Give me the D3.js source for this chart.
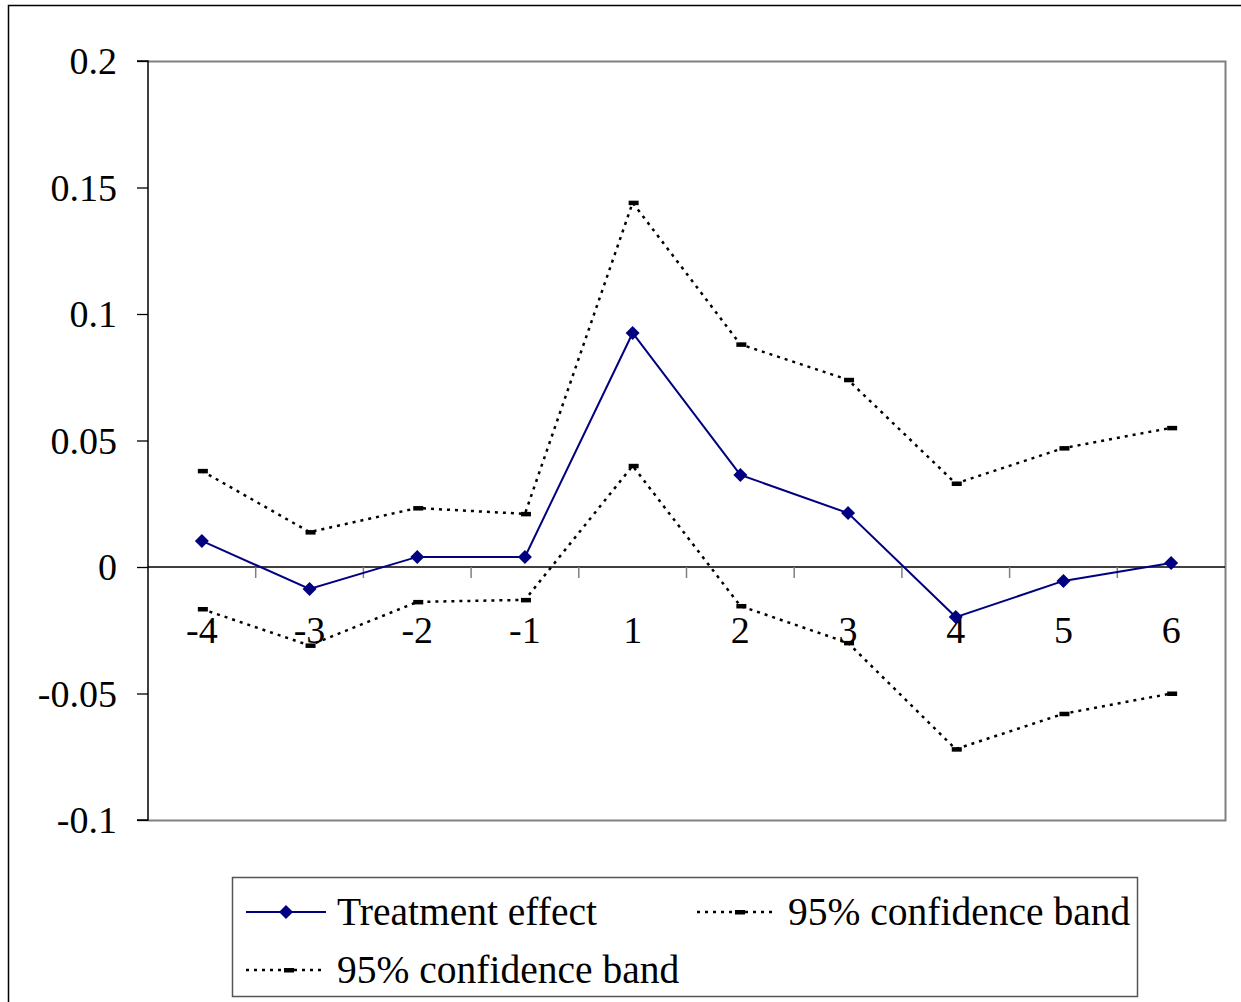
<!DOCTYPE html>
<html><head><meta charset="utf-8">
<script src="https://cdn.jsdelivr.net/npm/d3@7"></script>
<style>body{margin:0;background:#fff;}svg{display:block;}text{font-family:"Liberation Serif","Times New Roman",serif;}</style>
</head><body>
<svg id="c" width="1241" height="1002"></svg>
<script>
const categories = ["-4","-3","-2","-1","1","2","3","4","5","6"];
const treatment = [0.0103,-0.0087,0.0040,0.0040,0.0925,0.0364,0.0213,-0.0198,-0.0055,0.0016];
const upperBand = [0.0380,0.0138,0.0233,0.0210,0.1440,0.0880,0.0740,0.0330,0.0470,0.0550];
const lowerBand = [-0.0166,-0.0310,-0.0138,-0.0130,0.0400,-0.0154,-0.0300,-0.0720,-0.0580,-0.0500];
const yTicks = [-0.1,-0.05,0,0.05,0.1,0.15,0.2];
const yTickLabels = ["-0.1","-0.05","0","0.05","0.1","0.15","0.2"];
const legendLabels = ["Treatment effect","95% confidence band","95% confidence band"];

const svg = d3.select("#c");
const L=148,R=1225,T=61,B=820;
const x = d3.scaleBand().domain(categories).range([L,R]);
const y = d3.scaleLinear().domain([-0.1,0.2]).range([B,T]);
const cx = c => x(c)+x.bandwidth()/2;
const FF = "'Liberation Serif','Times New Roman',serif";

// outer frame
svg.append("path").attr("d","M8.5,1002 V5.5 H1241").attr("fill","none").attr("stroke","#000").attr("stroke-width",1.5);

// plot frame (gray top/right/bottom)
svg.append("path").attr("d",`M${L},${T+0.5} H${R+0.5} V${B+0.5} H${L}`).attr("fill","none").attr("stroke","#808080").attr("stroke-width",2);

// y axis
const yAxis = d3.axisLeft(y).tickValues(yTicks).tickSize(11).tickFormat((d,i)=>yTickLabels[i]);
const gy = svg.append("g").attr("transform",`translate(${L},0)`).call(yAxis);
gy.attr("font-family",FF);
gy.select(".domain").attr("stroke","#000").attr("stroke-width",1.5).attr("d",`M-11,${y(0.2)}H0V${y(-0.1)}H-11`);
gy.selectAll(".tick line").attr("stroke","#000").attr("stroke-width",1.3);
gy.selectAll(".tick text").attr("font-size",38).attr("fill","#000").attr("x",-31).attr("dy","0.34em")
  .style("font-family",FF);

// x axis at zero
svg.append("line").attr("x1",L).attr("x2",R).attr("y1",y(0)).attr("y2",y(0)).attr("stroke","#000").attr("stroke-width",1.3);
const bounds = categories.slice(1).map(c=>x(c));
svg.selectAll(".xt").data(bounds).enter().append("line")
  .attr("x1",d=>d).attr("x2",d=>d).attr("y1",y(0)).attr("y2",y(0)+11).attr("stroke","#808080").attr("stroke-width",1.5);
svg.selectAll(".xl").data(categories).enter().append("text")
  .attr("x",d=>cx(d)).attr("y",y(0)+76).attr("text-anchor","middle").attr("font-size",38).attr("fill","#000").text(d=>d);

const line = d3.line().x((d,i)=>cx(categories[i])).y(d=>y(d));

// bands
[upperBand,lowerBand].forEach(arr=>{
  svg.append("path").datum(arr).attr("d",line).attr("fill","none").attr("stroke","#000").attr("stroke-width",2.5).attr("stroke-dasharray","3,5");
  svg.selectAll(null).data(arr).enter().append("rect")
    .attr("x",(d,i)=>cx(categories[i])-4).attr("y",d=>y(d)-2).attr("width",10).attr("height",4.5).attr("fill","#000");
});

// treatment
svg.append("path").datum(treatment).attr("d",line).attr("fill","none").attr("stroke","#000080").attr("stroke-width",2);
const diamond = (px,py,s)=>`M${px},${py-s}L${px+s},${py}L${px},${py+s}L${px-s},${py}Z`;
svg.selectAll(null).data(treatment).enter().append("path")
  .attr("d",(d,i)=>diamond(cx(categories[i]),y(d),7)).attr("fill","#000080");

// legend
const lg = svg.append("g");
lg.append("rect").attr("x",232.5).attr("y",877.5).attr("width",905).attr("height",119).attr("fill","#fff").attr("stroke","#555").attr("stroke-width",1.5);
const items = [{x:246,y:912,type:"t"},{x:697,y:912,type:"b"},{x:246,y:970,type:"b"}];
items.forEach((it,i)=>{
  if(it.type==="t"){
    lg.append("line").attr("x1",it.x).attr("x2",it.x+80).attr("y1",it.y).attr("y2",it.y).attr("stroke","#000080").attr("stroke-width",2);
    lg.append("path").attr("d",diamond(it.x+40,it.y,7)).attr("fill","#000080");
  } else {
    lg.append("line").attr("x1",it.x).attr("x2",it.x+80).attr("y1",it.y).attr("y2",it.y).attr("stroke","#000").attr("stroke-width",2.5).attr("stroke-dasharray","3,5");
    lg.append("rect").attr("x",it.x+38).attr("y",it.y-2).attr("width",10).attr("height",4.5).attr("fill","#000");
  }
  lg.append("text").attr("x",it.x+91).attr("y",it.y+13).attr("font-size",39.5).attr("fill","#000").text(legendLabels[i]);
});
</script>
</body></html>
